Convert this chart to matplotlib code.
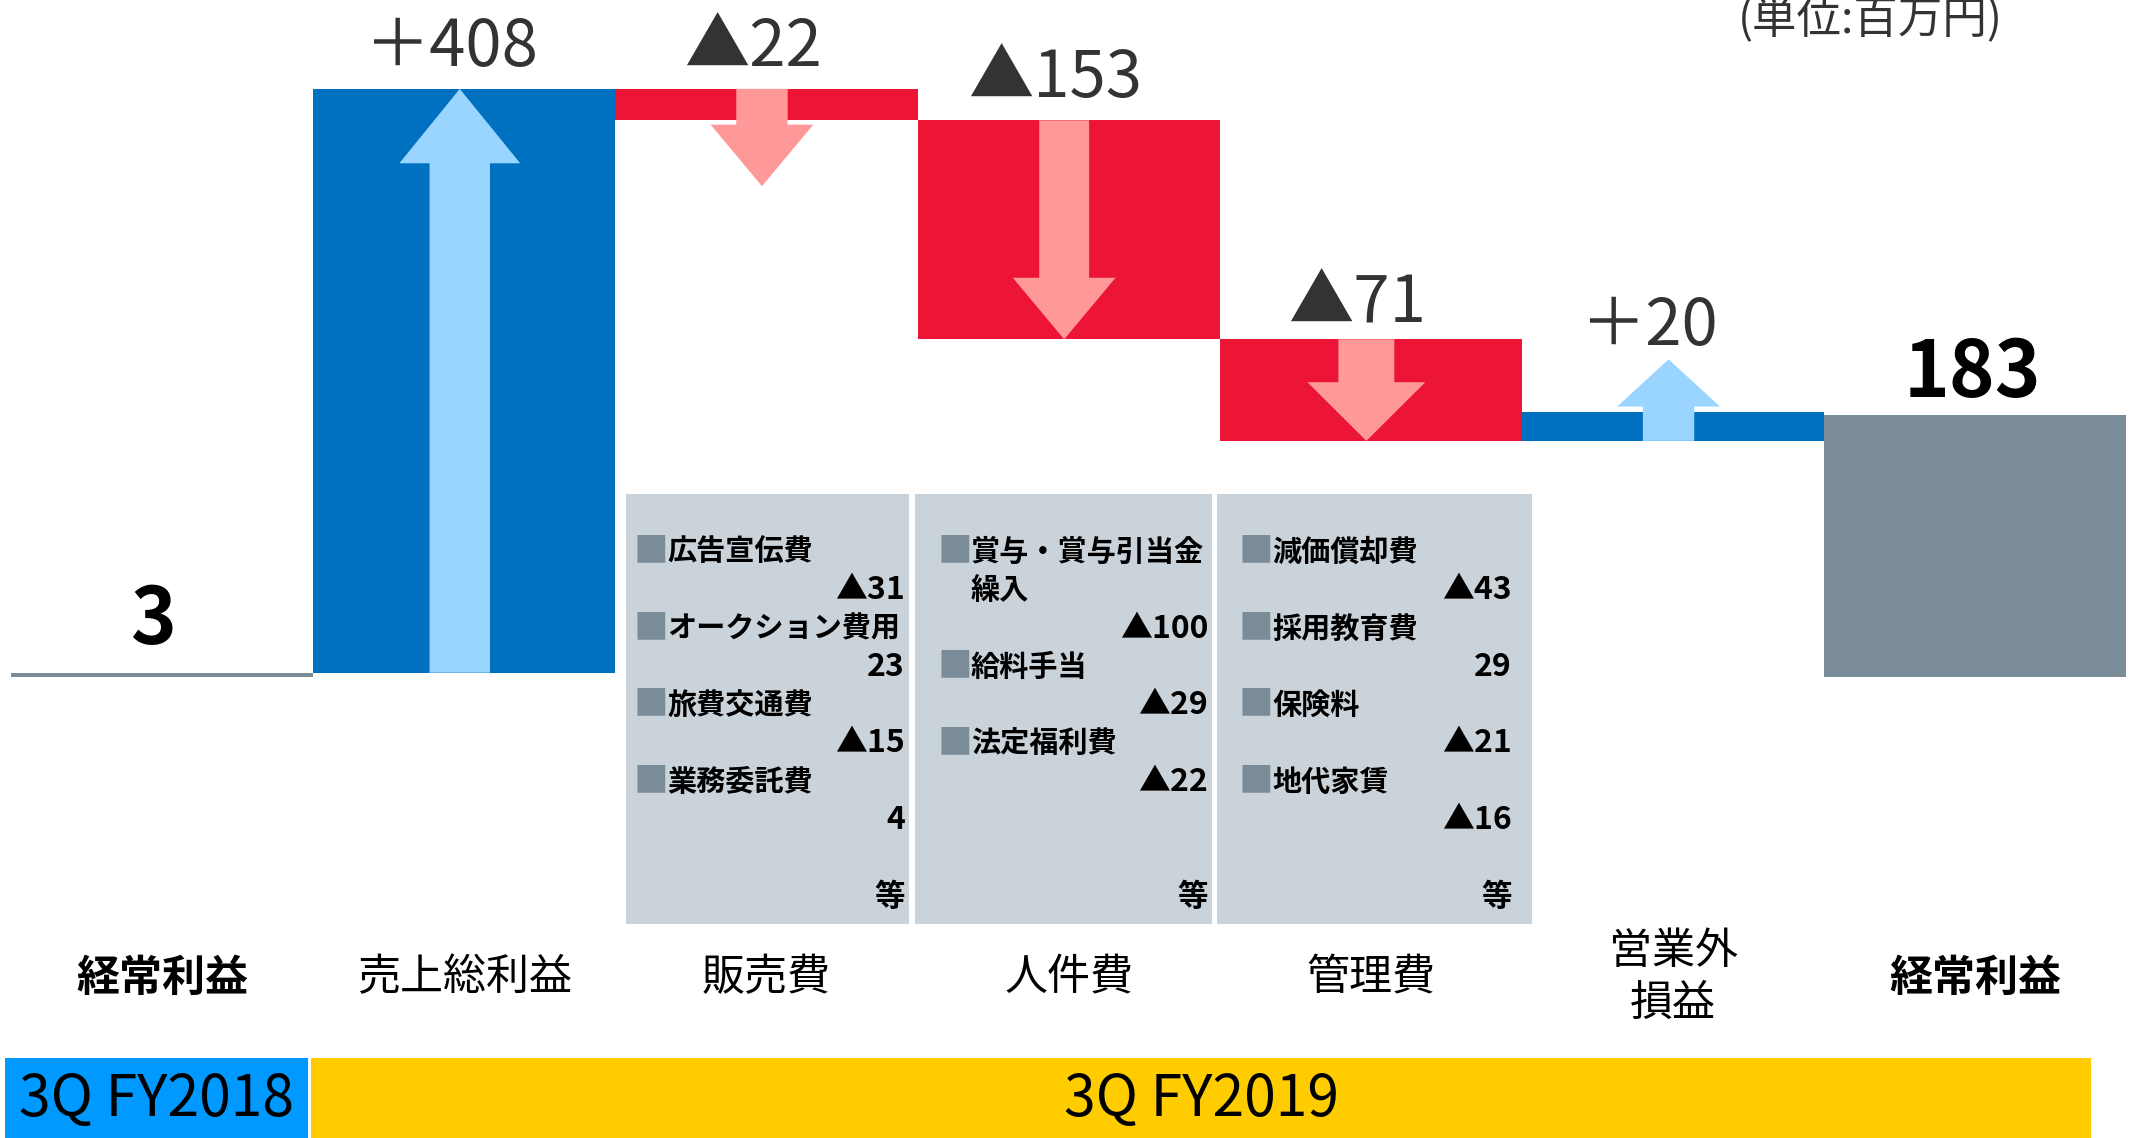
import matplotlib
matplotlib.use("Agg")
import matplotlib.pyplot as plt
from matplotlib.patches import Rectangle
import numpy as np

plt.rcParams['font.family'] = ['Noto Sans CJK JP', 'DejaVu Sans']

# data
categories = ["経常利益", "売上総利益", "販売費", "人件費", "管理費", "営業外\n損益", "経常利益"]
bold_categories = [True, False, False, False, False, False, True]
start_value = 3
changes = [408, -22, -153, -71, 20]
end_value = 183
change_labels = ["＋408", "▲22", "▲153", "▲71", "＋20"]
period_labels = ["3Q FY2018", "3Q FY2019"]
unit_label = "(単位:百万円)"

sales_items = [("広告宣伝費", "▲31"), ("オークション費用", "23"), ("旅費交通費", "▲15"), ("業務委託費", "4")]
personnel_items = [("賞与・賞与引当金\n繰入", "▲100"), ("給料手当", "▲29"), ("法定福利費", "▲22")]
admin_items = [("減価償却費", "▲43"), ("採用教育費", "29"), ("保険料", "▲21"), ("地代家賃", "▲16")]
detail_items = [sales_items, personnel_items, admin_items]

# colours
BLUE = "#0070C0"
RED = "#EC1536"
GRAY = "#7B8C99"
LIGHT_BLUE = "#99D5FF"
LIGHT_RED = "#FF9999"
BOX_GRAY = "#CBD3DA"
DARK = "#333333"

# layout (pixels of the 2129x1138 picture)
W, H = 2129, 1138
COL_LEFT, COL_W = 11, 302.2
ZERO_Y, PX_PER_UNIT = 677, 1.431


def fx(px):
    return px / W


def fy(py):
    return 1 - py / H


fig = plt.figure(figsize=(W / 100, H / 100), dpi=100)
ax = fig.add_axes([0, 0, 1, 1])
ax.set_xlim(-COL_LEFT / COL_W, (W - COL_LEFT) / COL_W)
ax.set_ylim(-(H - ZERO_Y) / PX_PER_UNIT, ZERO_Y / PX_PER_UNIT)
ax.axis("off")

# waterfall bars
levels = np.concatenate([[start_value], start_value + np.cumsum(changes)])
bottoms = [0] + [min(levels[i], levels[i + 1]) for i in range(len(changes))] + [0]
heights = [start_value] + [abs(c) for c in changes] + [end_value]
colors = [GRAY] + [BLUE if c > 0 else RED for c in changes] + [GRAY]
x = np.arange(len(categories))
ax.bar(x, heights, bottom=bottoms, width=1.0, align="edge", color=colors, linewidth=0)

# arrows inside the change bars: (shaft width, head width, head length, minimum length)
arrow_styles = [(0.2, 0.4, 52, 0), (0.17, 0.34, 43, 68), (0.165, 0.34, 43, 0),
                (0.185, 0.39, 41, 0), (0.17, 0.34, 33, 57)]
label_gap = [16, 16, 16, 12, 10]
label_dx = [-0.03, -0.03, -0.03, -0.03, -0.065]
for i, c in enumerate(changes):
    col = i + 1
    cx = col + 0.5 - 0.015
    shaft_w, head_w, head_len, min_len = arrow_styles[i]
    sign = 1 if c > 0 else -1
    tail = levels[i]
    tip = tail + sign * max(abs(c), min_len)
    neck = tip - sign * head_len
    xs = [cx - shaft_w / 2, cx + shaft_w / 2, cx + shaft_w / 2, cx + head_w / 2, cx,
          cx - head_w / 2, cx - shaft_w / 2]
    ys = [tail, tail, neck, neck, tip, neck, neck]
    ax.fill(xs, ys, color=LIGHT_BLUE if c > 0 else LIGHT_RED, linewidth=0, zorder=3)

    top = max(levels[i], levels[i + 1], tip)
    ax.text(cx + label_dx[i], top + label_gap[i], change_labels[i], ha="center", va="baseline",
            fontsize=47, color=DARK)

# totals
ax.text(0.47, start_value + 20, str(start_value), ha="center", va="baseline",
        fontsize=56, fontweight="bold", color="black")
ax.text(6.49, end_value + 13, str(end_value), ha="center", va="baseline",
        fontsize=56, fontweight="bold", color="black")

# category labels
xtrans = ax.get_xaxis_transform()
for i, name in enumerate(categories):
    ax.text(i + 0.5, fy(978), name, transform=xtrans, ha="center", va="center",
            fontsize=31, linespacing=1.25,
            fontweight="bold" if bold_categories[i] else "normal", color="black")

# detail boxes
box_px = [(626, 909), (915, 1212), (1217, 1532)]
left_inset = [12, 27, 26]
right_inset = [4, 4, 20]
BOX_TOP, BOX_BOTTOM = 494, 924
ROW0, ROW_STEP = 552, 38.3
for b, (x0, x1) in enumerate(box_px):
    fig.patches.append(Rectangle((fx(x0), fy(BOX_BOTTOM)), fx(x1) - fx(x0), fy(BOX_TOP) - fy(BOX_BOTTOM),
                                 transform=fig.transFigure, facecolor=BOX_GRAY, linewidth=0, zorder=1))
    sq_x = x0 + left_inset[b]
    txt_x = sq_x + 29
    val_x = x1 - right_inset[b]
    row = 0
    for label, value in detail_items[b]:
        lines = label.split("\n")
        fig.text(fx(sq_x - 4), fy(ROW0 + ROW_STEP * row), "■", ha="left", va="center",
                 fontsize=25, color=GRAY)
        for k, line in enumerate(lines):
            fig.text(fx(txt_x), fy(ROW0 + ROW_STEP * (row + k)), line, ha="left", va="center",
                     fontsize=21, fontweight="bold", color="black")
        row += len(lines)
        fig.text(fx(val_x), fy(ROW0 + ROW_STEP * row), value, ha="right", va="center",
                 fontsize=23, fontweight="bold", color="black")
        row += 1
    fig.text(fx(val_x), fy(ROW0 + ROW_STEP * 9), "等", ha="right", va="center",
             fontsize=22, fontweight="bold", color="black")

# period bands
bands = [(5, 308, "#0099FF"), (311, 2091, "#FFCC00")]
for (x0, x1, col), label in zip(bands, period_labels):
    fig.patches.append(Rectangle((fx(x0), 0), fx(x1) - fx(x0), fy(1058),
                                 transform=fig.transFigure, facecolor=col, linewidth=0))
    fig.text(fx((x0 + x1) / 2), fy(1100), label, ha="center", va="center",
             fontsize=41, color="black")

# unit
fig.text(fx(2003), fy(33), unit_label, ha="right", va="baseline", fontsize=32, color=DARK)

fig.savefig("out.png", dpi=100)
